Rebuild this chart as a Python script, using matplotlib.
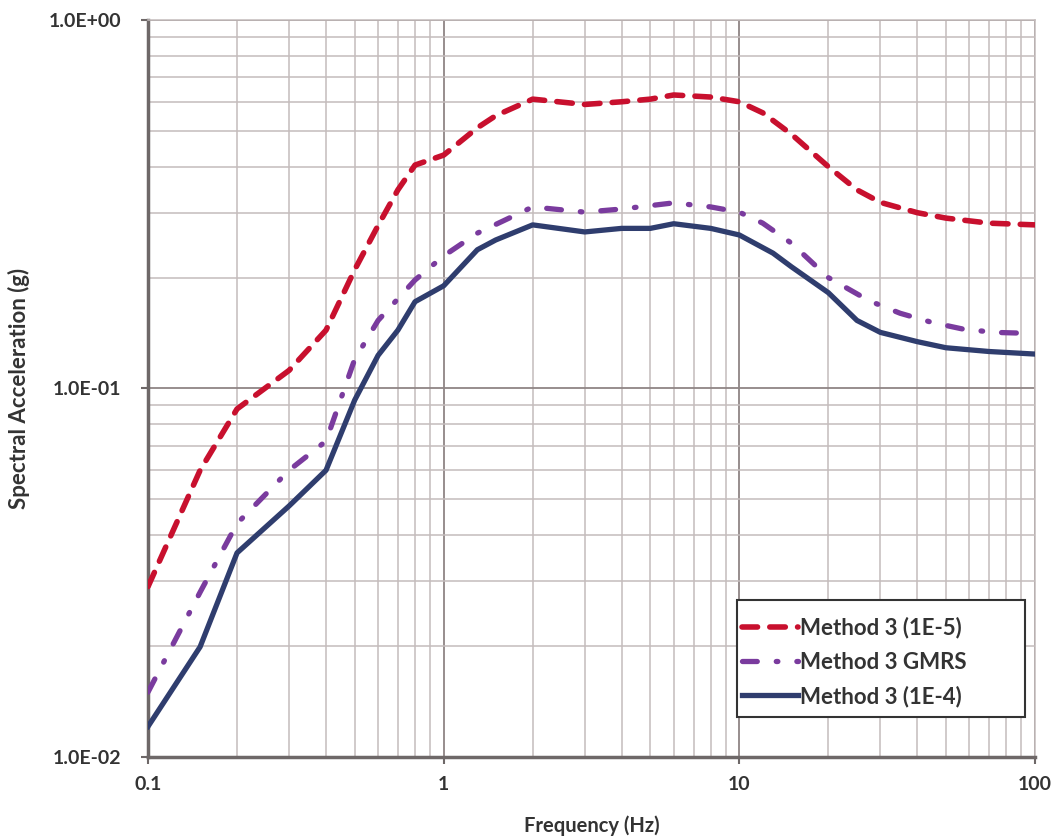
import numpy as np
import matplotlib.pyplot as plt
from matplotlib.patches import Rectangle
from matplotlib.ticker import LogLocator, FixedLocator, FuncFormatter, NullFormatter

# frequency (Hz) and spectral acceleration (g)
freq_1e5 = [0.1, 0.15, 0.2, 0.3, 0.4, 0.5, 0.6, 0.7, 0.8, 1.0, 1.3, 1.5, 2.0, 3.0, 4.0, 5.0,
            6.0, 8.0, 10.0, 12.0, 15.0, 20.0, 25.0, 30.0, 40.0, 50.0, 70.0, 100.0]
sa_1e5 = [0.029, 0.060, 0.088, 0.112, 0.144, 0.21, 0.277, 0.346, 0.404, 0.43, 0.51, 0.55, 0.61,
          0.59, 0.60, 0.61, 0.626, 0.618, 0.60, 0.56, 0.49, 0.40, 0.346, 0.32, 0.30, 0.29,
          0.281, 0.278]

freq_gmrs = [0.1, 0.15, 0.2, 0.3, 0.4, 0.5, 0.6, 0.8, 1.0, 1.3, 2.0, 3.0, 4.0, 6.0, 8.0,
             10.0, 12.0, 15.0, 20.0, 27.5, 35.0, 45.0, 57.0, 73.0, 100.0]
sa_gmrs = [0.015, 0.028, 0.043, 0.060, 0.072, 0.12, 0.153, 0.197, 0.229, 0.264, 0.311, 0.301,
           0.307, 0.319, 0.311, 0.301, 0.281, 0.248, 0.20, 0.173, 0.160, 0.151, 0.145, 0.142, 0.141]

freq_1e4 = [0.1, 0.15, 0.2, 0.3, 0.4, 0.5, 0.6, 0.7, 0.8, 1.0, 1.3, 1.5, 2.0, 3.0, 4.0, 5.0,
            6.0, 8.0, 10.0, 13.0, 15.0, 20.0, 25.0, 30.0, 40.0, 50.0, 70.0, 100.0]
sa_1e4 = [0.0121, 0.0199, 0.0358, 0.048, 0.060, 0.093, 0.123, 0.144, 0.172, 0.19, 0.238, 0.253,
          0.278, 0.266, 0.272, 0.272, 0.28, 0.272, 0.261, 0.233, 0.214, 0.182, 0.153, 0.142,
          0.134, 0.129, 0.126, 0.124]

plt.rcParams['font.family'] = ['Lato', 'DejaVu Sans']
txt = '#333333'

fig = plt.figure(figsize=(10.59, 8.38), dpi=100)
ax = fig.add_axes([0.1398, 0.0967, 0.8375, 0.8794])

ax.plot(freq_1e5, sa_1e5, color='#c8102e', lw=4, ls=(0, (2.8, 2.2)),
        dash_capstyle='round', label='Method 3 (1E-5)', zorder=3)
ax.plot(freq_gmrs, sa_gmrs, color='#7a3b9e', lw=3.8, ls=(0, (2.8, 3.6, 0.3, 3.6)),
        dash_capstyle='round', label='Method 3 GMRS', zorder=3)
ax.plot(freq_1e4, sa_1e4, color='#2f3d6e', lw=3.8, label='Method 3 (1E-4)', zorder=3)

ax.set_xscale('log')
ax.set_yscale('log')
ax.set_xlim(0.1, 100)
ax.set_ylim(0.01, 1.0)

ax.xaxis.set_major_locator(FixedLocator([0.1, 1, 10, 100]))
ax.xaxis.set_major_formatter(FuncFormatter(lambda v, p: '%g' % v))
ax.yaxis.set_major_locator(FixedLocator([0.01, 0.1, 1.0]))
ax.yaxis.set_major_formatter(FuncFormatter(lambda v, p: '%.1E' % v))
for a in (ax.xaxis, ax.yaxis):
    a.set_minor_locator(LogLocator(base=10, subs=np.arange(2, 10), numticks=20))
    a.set_minor_formatter(NullFormatter())

ax.grid(which='major', color='#8f8585', lw=1.3)
ax.grid(which='minor', color='#c4bcbc', lw=1.1)
ax.set_axisbelow(True)

for s in ('top', 'right'):
    ax.spines[s].set_color('#c4bcbc')
    ax.spines[s].set_linewidth(1.1)
for s in ('left', 'bottom'):
    ax.spines[s].set_color('#6e6868')
    ax.spines[s].set_linewidth(2.5)

ax.tick_params(which='major', length=5, width=1.5, color='#6e6868', labelsize=14,
               labelcolor=txt)
ax.tick_params(which='minor', length=0)
ax.tick_params(axis='x', pad=9)
ax.tick_params(axis='y', pad=14)
for lab in ax.get_xticklabels() + ax.get_yticklabels():
    lab.set_fontweight('bold')

ax.set_xlabel('Frequency (Hz)', fontsize=14.5, fontweight='bold', color=txt, labelpad=16)
ax.set_ylabel('Spectral Acceleration (g)', fontsize=16, fontweight='bold', color=txt,
              labelpad=14)

# legend box drawn separately, Excel-style (wider than its contents)
ax.add_patch(Rectangle((0.664, 0.0543), 0.3247, 0.1587, transform=ax.transAxes,
                       facecolor='white', edgecolor=txt, lw=1.5, zorder=4))
leg = ax.legend(loc='upper left', bbox_to_anchor=(0.670, 0.190), fontsize=16, frameon=False,
                handlelength=2.5, handletextpad=0.1, borderpad=0, labelspacing=0.58,
                borderaxespad=0)
leg.set_zorder(5)
for t in leg.get_texts():
    t.set_fontweight('bold')
    t.set_color(txt)

fig.savefig('out.png', dpi=100)
